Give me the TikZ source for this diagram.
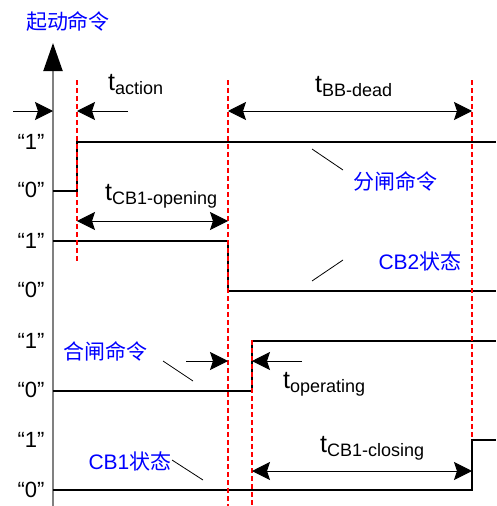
\documentclass[tikz,border=0pt]{standalone}
\usepackage{fontspec}
\setmainfont{Liberation Sans}
\newfontfamily\cjk{Noto Sans CJK SC}
\usetikzlibrary{arrows.meta}
\tikzset{
  sig/.style={line width=2.8pt, black, line cap=butt, line join=miter},
  axisline/.style={line width=2pt, draw=gray},
  reddash/.style={line width=1.8pt, red, dash pattern=on 5pt off 3pt},
  dimarrow/.style={line width=0.9pt, black, -{Stealth[length=18pt,width=18pt,inset=3pt]}},
  dimboth/.style={line width=0.9pt, black, {Stealth[length=18pt,width=18pt,inset=3pt]}-{Stealth[length=18pt,width=18pt,inset=3pt]}},
  leader/.style={line width=0.8pt, black},
  lvl/.style={inner sep=0pt, anchor=base, font=\fontsize{22}{22}\selectfont},
  cn/.style={inner sep=0pt, text=blue, font=\fontsize{21}{21}\selectfont},
  tlab/.style={inner sep=0pt, anchor=base west},
}
\newcommand{\tsub}[1]{{\fontsize{25}{25}\selectfont t}\raisebox{-4pt}{\fontsize{18}{18}\selectfont #1}}
\begin{document}
\begin{tikzpicture}[x=1pt,y=-1pt]
\useasboundingbox (0,0) rectangle (496,506);
% axis
\coordinate (ax0) at (53,506);
\coordinate (ax1) at (53,43);
\draw[axisline, -{Triangle[length=28pt,width=19pt,color=black]}] (ax0) -- (ax1);
\node[cn] (title) at (68,21) {\cjk 起动命令};
% level labels
\node[lvl] (l1a) at (31,149) {“1”};
\node[lvl] (l0a) at (31,197) {“0”};
\node[lvl] (l1b) at (31,248) {“1”};
\node[lvl] (l0b) at (31,297) {“0”};
\node[lvl] (l1c) at (31,348) {“1”};
\node[lvl] (l0c) at (31,397) {“0”};
\node[lvl] (l1d) at (31,447) {“1”};
\node[lvl] (l0d) at (31,497) {“0”};
% signals
\coordinate (s1a) at (53,191); \coordinate (s1b) at (77,191);
\coordinate (s1c) at (77,142); \coordinate (s1d) at (496,142);
\draw[sig] (s1a) -- (s1b) -- (s1c) -- (s1d);
\coordinate (s2a) at (53,241); \coordinate (s2b) at (228,241);
\coordinate (s2c) at (228,291); \coordinate (s2d) at (496,291);
\draw[sig] (s2a) -- (s2b) -- (s2c) -- (s2d);
\coordinate (s3a) at (53,391); \coordinate (s3b) at (252,391);
\coordinate (s3c) at (252,341); \coordinate (s3d) at (496,341);
\draw[sig] (s3a) -- (s3b) -- (s3c) -- (s3d);
\coordinate (s4a) at (53,490); \coordinate (s4b) at (472,490);
\coordinate (s4c) at (472,440); \coordinate (s4d) at (496,440);
\draw[sig] (s4a) -- (s4b) -- (s4c) -- (s4d);
% red dashed lines
\coordinate (ra0) at (77,80);  \coordinate (ra1) at (77,262);
\coordinate (rb0) at (228,80); \coordinate (rb1) at (228,506);
\coordinate (rc0) at (252,340);\coordinate (rc1) at (252,506);
\coordinate (rd0) at (472,80); \coordinate (rd1) at (472,440);
\draw[reddash] (ra0) -- (ra1);
\draw[reddash] (rb0) -- (rb1);
\draw[reddash] (rc0) -- (rc1);
\draw[reddash] (rd0) -- (rd1);
% t_action
\coordinate (ta0) at (13,111); \coordinate (ta1) at (53,111);
\coordinate (ta2) at (128,111); \coordinate (ta3) at (77,111);
\draw[dimarrow] (ta0) -- (ta1);
\draw[dimarrow] (ta2) -- (ta3);
\node[tlab] (tact) at (108,90) {\tsub{action}};
% t_BB-dead
\coordinate (tb0) at (228,111); \coordinate (tb1) at (472,111);
\draw[dimboth] (tb0) -- (tb1);
\node[tlab] (tbb) at (315,92) {\tsub{BB-dead}};
% t_CB1-opening
\coordinate (to0) at (77,221); \coordinate (to1) at (228,221);
\draw[dimboth] (to0) -- (to1);
\node[tlab] (topen) at (105,200) {\tsub{CB1-opening}};
% closing command arrow
\coordinate (hc0) at (186,361); \coordinate (hc1) at (228,361);
\draw[dimarrow] (hc0) -- (hc1);
% t_operating
\coordinate (tp0) at (302,361); \coordinate (tp1) at (252,361);
\draw[dimarrow] (tp0) -- (tp1);
\node[tlab] (toper) at (283,388) {\tsub{operating}};
% t_CB1-closing
\coordinate (tc0) at (252,471); \coordinate (tc1) at (472,471);
\draw[dimboth] (tc0) -- (tc1);
\node[tlab] (tclose) at (320,452) {\tsub{CB1-closing}};
% labels with leaders
\node[cn] (fz) at (395,181) {\cjk 分闸命令};
\coordinate (fz0) at (312,149); \coordinate (fz1) at (343,170);
\draw[leader] (fz0) -- (fz1);
\node[cn] (cb2) at (420,261) {CB2{\cjk 状态}};
\coordinate (cb20) at (343,260); \coordinate (cb21) at (312,281);
\draw[leader] (cb20) -- (cb21);
\node[cn] (hz) at (105,351) {\cjk 合闸命令};
\coordinate (hz0) at (163,361); \coordinate (hz1) at (193,381);
\draw[leader] (hz0) -- (hz1);
\node[cn] (cb1) at (130,461) {CB1{\cjk 状态}};
\coordinate (cb10) at (172,460); \coordinate (cb11) at (203,480);
\draw[leader] (cb10) -- (cb11);
\end{tikzpicture}
\end{document}
